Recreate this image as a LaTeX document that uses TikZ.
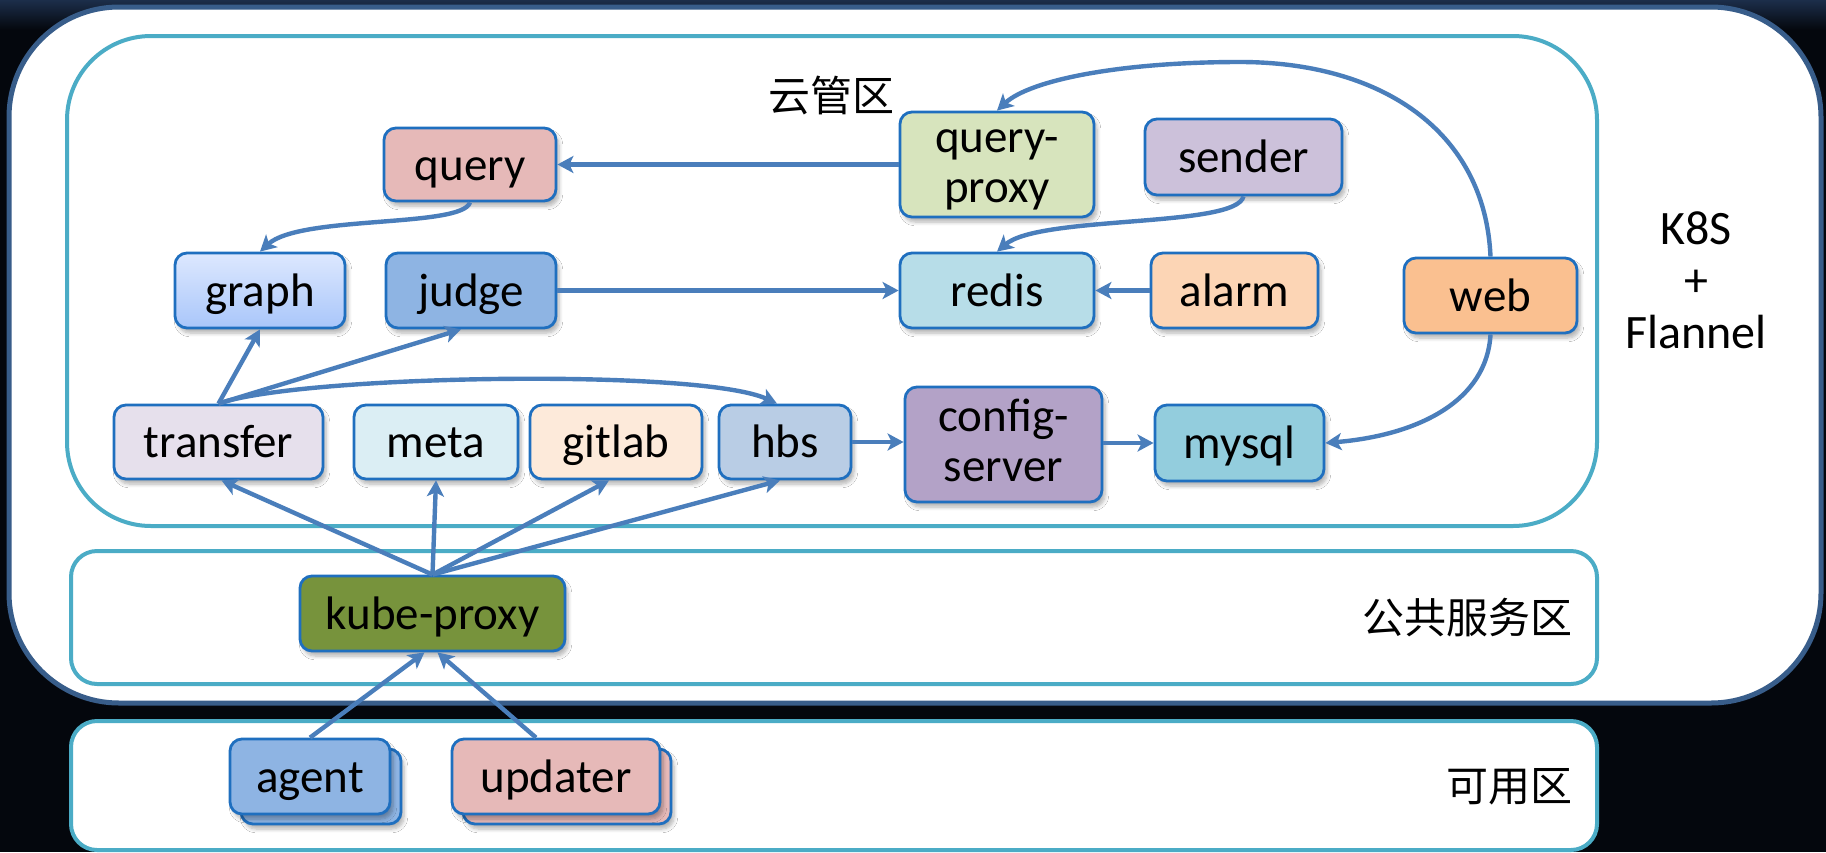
\documentclass[tikz,border=0pt]{standalone}
\usepackage{fontspec}
\setmainfont{Carlito}
\newfontfamily\cjk{Noto Sans CJK SC}
\usetikzlibrary{arrows.meta,shadows.blur,calc}
\definecolor{bgc}{HTML}{04070D}
\definecolor{bgtop}{HTML}{1C2E4A}
\definecolor{outerblue}{HTML}{385D8A}
\definecolor{zoneteal}{HTML}{4BACC6}
\definecolor{nodeblue}{HTML}{1F6FBF}
\definecolor{arrowblue}{HTML}{4A7EBB}
\definecolor{cquery}{HTML}{E6B9B8}
\definecolor{cqproxy}{HTML}{D7E4BD}
\definecolor{csender}{HTML}{CCC1DA}
\definecolor{cgraphtop}{HTML}{DDE8FE}
\definecolor{cgraphbot}{HTML}{A9C6FA}
\definecolor{cjudge}{HTML}{8EB4E3}
\definecolor{credis}{HTML}{B7DDE8}
\definecolor{calarm}{HTML}{FCD5B5}
\definecolor{cweb}{HTML}{FAC090}
\definecolor{ctransfer}{HTML}{E6E0EC}
\definecolor{cmeta}{HTML}{DBEEF4}
\definecolor{cgitlab}{HTML}{FDEADA}
\definecolor{chbs}{HTML}{B9CDE5}
\definecolor{cconfig}{HTML}{B3A2C7}
\definecolor{cmysql}{HTML}{93CDDD}
\definecolor{ckube}{HTML}{77933C}
\definecolor{cagent}{HTML}{8EB4E3}
\definecolor{cupdater}{HTML}{E6B9B8}
\newcommand{\nodefont}{\fontsize{23.5}{25}\selectfont}
\newcommand{\zhfont}{\cjk\fontsize{21}{25}\selectfont}
\begin{document}
\begin{tikzpicture}[x=0.5pt,y=-0.5pt,
  bx/.style 2 args={draw=nodeblue, line width=1.4pt, rounded corners=6pt,
    minimum width=#1*0.5pt, minimum height=#2*0.5pt, inner sep=0pt,
    font=\nodefont,
    blur shadow={shadow xshift=1.5pt, shadow yshift=-2.5pt, shadow opacity=30, shadow blur steps=6}},
  one/.style={text height=16.5pt, text depth=1pt},
  zone/.style={draw=zoneteal, line width=2pt, fill=white},
  arr/.style={draw=arrowblue, line width=2.2pt, -{Stealth[length=8pt,width=8.5pt,inset=2pt]}},
  zh/.style={font=\zhfont, inner sep=0pt}
]
\useasboundingbox (0,0) rectangle (1826,852);
\fill[bgc] (0,0) rectangle (1826,852);
\shade[top color=bgtop, bottom color=bgc] (0,0) rectangle (1826,30);

% outer K8S area
\draw[draw=outerblue, line width=2.5pt, fill=white, rounded corners=55pt] (9,7) rectangle (1821,703);
% zones
\draw[zone, rounded corners=42pt] (67,36) rectangle (1597,526);
\draw[zone, rounded corners=13pt] (71,551) rectangle (1597,684);
\draw[zone, rounded corners=13pt] (71,721) rectangle (1597,850);

% zone labels
\node[zh] (tcloud) at (831,96) {云管区};
\node[zh, anchor=east] (tpub) at (1573,618) {公共服务区};
\node[zh, anchor=east] (tavail) at (1573,787) {可用区};
\node[font=\fontsize{24}{26}\selectfont, align=center, inner sep=0pt] (tk8s) at (1696,280) {K8S\\+\\Flannel};

% nodes
\node[bx={172}{73}, fill=cquery, one] (query) at (470,164.5) {query};
\node[bx={194}{105}, fill=cqproxy, align=center] (qproxy) at (997,164.5) {\vphantom{d}query-\\proxy};
\node[bx={197}{76}, fill=csender, one] (sender) at (1243.5,157) {sender};
\node[bx={170}{75}, top color=cgraphtop, bottom color=cgraphbot, one] (graph) at (260,290.5) {graph};
\node[bx={170}{75}, fill=cjudge, one] (judge) at (471,290.5) {judge};
\node[bx={194}{75}, fill=credis, one] (redis) at (997,290.5) {redis};
\node[bx={167}{75}, fill=calarm, one] (alarm) at (1234.5,290.5) {alarm};
\node[bx={173}{75}, fill=cweb, one] (web) at (1490.5,295.5) {web};
\node[bx={209}{74}, fill=ctransfer, one] (transfer) at (218.5,442) {transfer};
\node[bx={164}{74}, fill=cmeta, one] (meta) at (436,442) {meta};
\node[bx={172}{74}, fill=cgitlab, one] (gitlab) at (616,442) {gitlab};
\node[bx={132}{74}, fill=chbs, one] (hbs) at (785,442) {hbs};
\node[bx={197}{115}, fill=cconfig, align=center] (config) at (1003.5,444.5) {config-\\server\vphantom{g}};
\node[bx={169}{76}, fill=cmysql, one] (mysql) at (1239.5,443) {mysql};
\node[bx={265}{75}, fill=ckube, one] (kube) at (432.5,613.5) {kube-proxy};
\node[bx={160}{75}, fill=cagent] (agentback) at (321,786.5) {};
\node[bx={160}{75}, fill=cagent, one] (agent) at (310,776.5) {agent};
\node[bx={208}{75}, fill=cupdater] (updaterback) at (567,786.5) {};
\node[bx={208}{75}, fill=cupdater, one] (updater) at (556,776.5) {updater};

% connectors
\draw[arr] (qproxy.west) -- (query.east);
\draw[arr] (query.south) .. controls (462,228) and (300,215) .. (graph.north);
\draw[arr] (sender.south) .. controls (1236,228) and (1040,215) .. (redis.north);
\draw[arr] (judge.east) -- (redis.west);
\draw[arr] (alarm.west) -- (redis.east);
\draw[arr] (web.north) .. controls (1485,130) and (1380,62) .. (1240,62)
  .. controls (1120,62) and (1030,80) .. (qproxy.north);
\draw[arr] (web.south) .. controls (1487,400) and (1420,435) .. (mysql.east);
\draw[arr] (transfer.north) -- (graph.south);
\draw[arr] (transfer.north) -- ($(judge.south)+(-10,0)$);
\draw[arr] (transfer.north) .. controls (300,375) and (700,368) .. ($(hbs.north)+(-8,0)$);
\draw[arr] (hbs.east) -- (hbs.east -| config.west);
\draw[arr] (config.east |- mysql.west) -- (mysql.west);
\draw[arr] (kube.north) -- ($(transfer.south)+(3,0)$);
\draw[arr] (kube.north) -- (meta.south);
\draw[arr] (kube.north) -- ($(gitlab.south)+(-7,0)$);
\draw[arr] (kube.north) -- ($(hbs.south)+(-5,0)$);
\draw[arr] (agent.north) -- ($(kube.south)+(-8,0)$);
\draw[arr] ($(updater.north)+(-20,0)$) -- ($(kube.south)+(5,0)$);
\end{tikzpicture}
\end{document}
